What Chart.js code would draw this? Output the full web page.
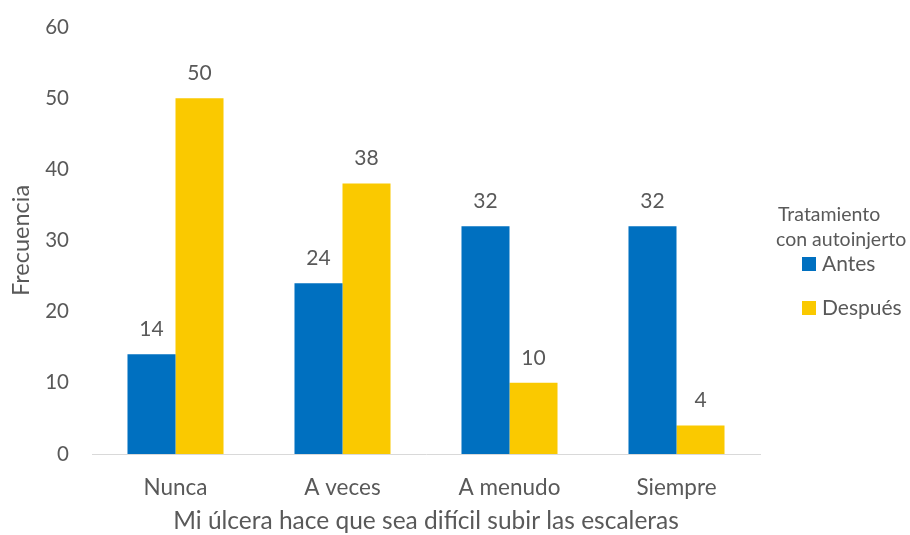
<!DOCTYPE html>
<html>
<head>
<meta charset="utf-8">
<script src="https://cdn.jsdelivr.net/npm/chart.js@4.4.1/dist/chart.umd.min.js"></script>
<style>
    body { margin: 0; background: #ffffff; }
    #wrap { width: 910px; height: 535px; }
</style>
</head>
<body>
<div id="wrap"><canvas id="ulceraChart"></canvas></div>
<script>
// Chart data
const categories = ['Nunca', 'A veces', 'A menudo', 'Siempre'];
const antesValues = [14, 24, 32, 32];
const despuesValues = [50, 38, 10, 4];
const seriesNames = ['Antes', 'Después'];
const legendTitle = ['Tratamiento', 'con autoinjerto'];

const textColor = '#595959';
const fontFamily = 'Lato, "Open Sans", sans-serif';
const blue = '#0070C0';
const gold = '#FAC900';

// Writes the value above each bar
const barValueLabels = {
    id: 'barValueLabels',
    afterDatasetsDraw(chart) {
        const ctx = chart.ctx;
        ctx.save();
        ctx.font = '21px ' + fontFamily;
        ctx.fillStyle = textColor;
        ctx.textAlign = 'center';
        ctx.textBaseline = 'middle';
        chart.data.datasets.forEach((ds, i) => {
            chart.getDatasetMeta(i).data.forEach((bar, j) => {
                ctx.fillText(ds.data[j], bar.x, bar.y - 25);
            });
        });
        ctx.restore();
    }
};

// Legend at the right, with a two line title
const sideLegend = {
    id: 'sideLegend',
    afterDraw(chart) {
        const ctx = chart.ctx;
        const left = chart.chartArea.right;
        ctx.save();
        ctx.fillStyle = textColor;
        ctx.textBaseline = 'middle';
        ctx.textAlign = 'left';
        ctx.font = '19.5px ' + fontFamily;
        ctx.fillText(legendTitle[0], left + 18, 215);
        ctx.fillText(legendTitle[1], left + 16, 240);
        ctx.font = '21px ' + fontFamily;
        chart.data.datasets.forEach((ds, i) => {
            const y = 264 + i * 44;
            ctx.fillStyle = ds.backgroundColor;
            ctx.fillRect(left + 42, y - 7, 14, 14);
            ctx.fillStyle = textColor;
            ctx.fillText(ds.label, left + 62, y);
        });
        ctx.restore();
    }
};

new Chart(document.getElementById('ulceraChart'), {
    type: 'bar',
    data: {
        labels: categories,
        datasets: [{
            label: seriesNames[0],
            data: antesValues,
            backgroundColor: blue,
            categoryPercentage: 0.575,
            barPercentage: 1
        }, {
            label: seriesNames[1],
            data: despuesValues,
            backgroundColor: gold,
            categoryPercentage: 0.575,
            barPercentage: 1
        }]
    },
    options: {
        responsive: true,
        maintainAspectRatio: false,
        animation: false,
        layout: { padding: { top: 27, right: 150, left: 0, bottom: 0 } },
        scales: {
            x: {
                grid: { display: false, drawTicks: false },
                border: { color: '#D9D9D9', width: 1 },
                ticks: { color: textColor, font: { family: fontFamily, size: 22.5 }, padding: 20 },
                title: {
                    display: true,
                    text: 'Mi úlcera hace que sea difícil subir las escaleras',
                    color: textColor,
                    font: { family: fontFamily, size: 24.5 },
                    padding: { top: 0, bottom: -1 }
                },
                afterFit(scale) { scale.height = 81; }
            },
            y: {
                min: 0,
                max: 60,
                // tick length only moves the labels away, grid is hidden
                grid: { display: false, drawTicks: true, tickLength: 20 },
                border: { display: false },
                ticks: { stepSize: 10, color: textColor, font: { family: fontFamily, size: 20.5 }, padding: 3 },
                title: {
                    display: true,
                    text: 'Frecuencia',
                    color: textColor,
                    font: { family: fontFamily, size: 23.5 },
                    padding: { top: 7, bottom: 0 }
                },
                afterFit(scale) { scale.width = 92; }
            }
        },
        plugins: {
            legend: { display: false },
            tooltip: { enabled: false }
        }
    },
    plugins: [barValueLabels, sideLegend]
});
</script>
</body>
</html>
